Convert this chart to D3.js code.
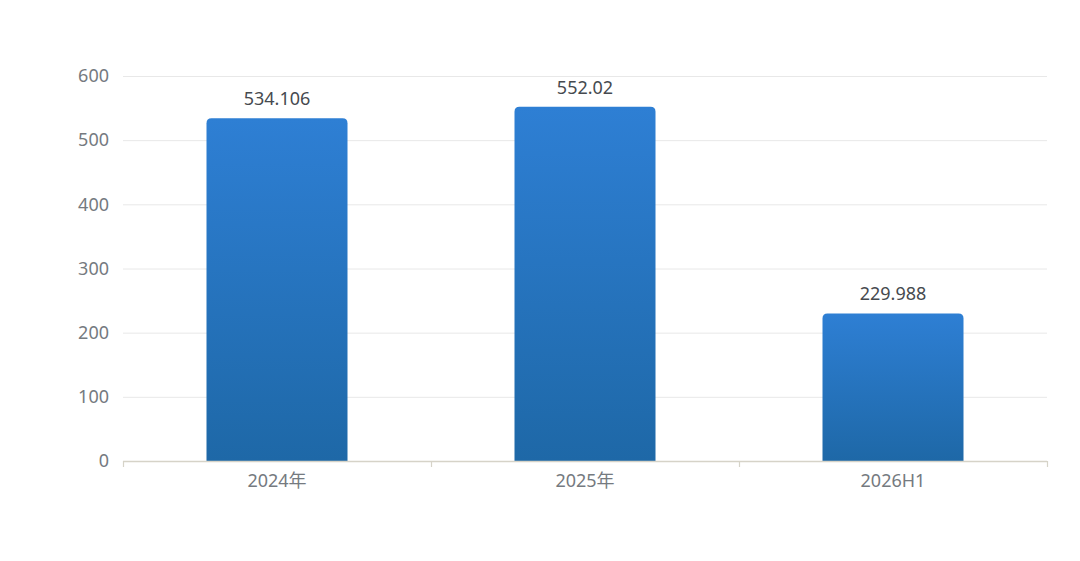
<!DOCTYPE html>
<html><head><meta charset="utf-8">
<script src="https://cdn.jsdelivr.net/npm/d3@7/dist/d3.min.js"></script>
<style>body{margin:0;background:#fff;}svg{display:block;font-family:"Noto Sans","Noto Sans CJK SC",sans-serif;}</style>
</head><body>
<svg id="c" width="1080" height="561"></svg>
<script>
const categories = ["2024年", "2025年", "2026H1"];
const values = [534.106, 552.02, 229.988];
const yTicks = [0, 100, 200, 300, 400, 500, 600];

const svg = d3.select("#c");
const m = {left: 123, right: 1047, top: 76, bottom: 461};
const x = d3.scaleBand().domain(categories).range([m.left, m.right]).paddingInner(0).paddingOuter(0);
const y = d3.scaleLinear().domain([0, 600]).range([m.bottom, m.top]);

const defs = svg.append("defs");
const g = defs.append("linearGradient").attr("id", "bg").attr("x1", 0).attr("y1", 0).attr("x2", 0).attr("y2", 1);
g.append("stop").attr("offset", "0%").attr("stop-color", "#2e7fd4");
g.append("stop").attr("offset", "100%").attr("stop-color", "#1e68a7");

// grid
svg.append("g").selectAll("line").data(yTicks.filter(d => d > 0)).join("line")
  .attr("x1", m.left).attr("x2", m.right)
  .attr("y1", d => y(d) + 0.5).attr("y2", d => y(d) + 0.5)
  .attr("stroke", "#e8e8e8").attr("stroke-width", 1);

// y labels
svg.append("g").selectAll("text").data(yTicks).join("text")
  .attr("x", 109).attr("y", d => y(d)).attr("dy", "0.35em")
  .attr("text-anchor", "end").attr("fill", "#757a80").attr("font-size", 18)
  .text(d => d);

// bars
const bw = 141;
const r = 5;
svg.append("g").selectAll("path").data(values).join("path")
  .attr("fill", "url(#bg)")
  .attr("d", (d, i) => {
    const cx = x(categories[i]) + x.bandwidth() / 2;
    const x0 = cx - bw / 2, x1 = cx + bw / 2, y0 = y(d), y1 = y(0);
    return `M${x0},${y1}V${y0 + r}Q${x0},${y0} ${x0 + r},${y0}H${x1 - r}Q${x1},${y0} ${x1},${y0 + r}V${y1}Z`;
  });

// value labels
svg.append("g").selectAll("text").data(values).join("text")
  .attr("x", (d, i) => x(categories[i]) + x.bandwidth() / 2)
  .attr("y", d => y(d) - 13)
  .attr("text-anchor", "middle").attr("fill", "#464a4f").attr("font-size", 18)
  .text(d => d);

// x axis
const ax = svg.append("g");
ax.append("line").attr("x1", m.left).attr("x2", m.right).attr("y1", m.bottom + 0.5).attr("y2", m.bottom + 0.5)
  .attr("stroke", "#d6d3c8").attr("stroke-width", 1.5);
const tickPos = categories.map(c => x(c)).concat([m.right]);
ax.selectAll("line.t").data(tickPos).join("line").attr("class", "t")
  .attr("x1", d => d + 0.5).attr("x2", d => d + 0.5).attr("y1", m.bottom).attr("y2", m.bottom + 6)
  .attr("stroke", "#d6d3c8").attr("stroke-width", 1.2);
ax.selectAll("text").data(categories).join("text")
  .attr("x", c => x(c) + x.bandwidth() / 2).attr("y", 481).attr("dy", "0.35em")
  .attr("text-anchor", "middle").attr("fill", "#757a80").attr("font-size", 18)
  .text(c => c);
</script>
</body></html>
